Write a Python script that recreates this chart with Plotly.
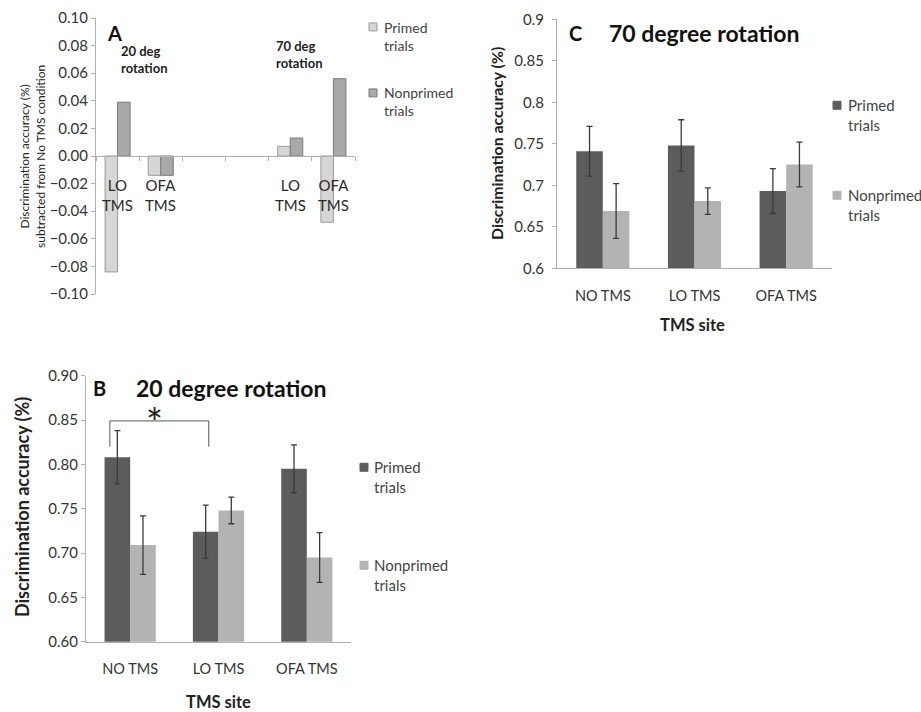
import plotly.graph_objects as go

W, H = 921, 712
FONT = "Lato"

# ---------- Data ----------
# Panel A: differences from No TMS condition
a_categories = ["LO<br>TMS", "OFA<br>TMS", "", "", "LO<br>TMS", "OFA<br>TMS"]
a_primed = [-0.084, -0.014, None, None, 0.007, -0.048]
a_nonprimed = [0.039, -0.014, None, None, 0.013, 0.056]
a_ticks = [-0.10, -0.08, -0.06, -0.04, -0.02, 0.00, 0.02, 0.04, 0.06, 0.08, 0.10]

# Panel B: 20 degree rotation
sites = ["NO TMS", "LO TMS", "OFA TMS"]
b_primed = [0.808, 0.724, 0.795]
b_primed_err = [0.030, 0.030, 0.027]
b_nonprimed = [0.709, 0.748, 0.695]
b_nonprimed_err = [0.033, 0.015, 0.028]
b_ticks = [0.60, 0.65, 0.70, 0.75, 0.80, 0.85, 0.90]

# Panel C: 70 degree rotation
c_primed = [0.741, 0.748, 0.693]
c_primed_err = [0.030, 0.031, 0.027]
c_nonprimed = [0.669, 0.681, 0.725]
c_nonprimed_err = [0.033, 0.016, 0.027]
c_ticks = [0.6, 0.65, 0.7, 0.75, 0.8, 0.85, 0.9]

series_names = ["Primed<br>trials", "Nonprimed<br>trials"]


def px_x(p):
    return p / W


def px_y(p):
    return 1 - p / H


DARK = "#5c5c5c"
LIGHT = "#b3b3b3"
A_LIGHT = "#d6d6d6"
A_MID = "#a9a9a9"
ERR = "#3a3a3a"
AXIS = "#b0b0b0"
TXT = "#333333"

fig = go.Figure()

a_x = [i + 0.5 for i in range(len(a_categories))]

fig.add_trace(go.Bar(x=a_x, y=a_primed, name=series_names[0],
                     marker=dict(color=A_LIGHT, line=dict(color="#9a9a9a", width=1)),
                     xaxis="x", yaxis="y"))
fig.add_trace(go.Bar(x=a_x, y=a_nonprimed, name=series_names[1],
                     marker=dict(color=A_MID, line=dict(color="#7a7a7a", width=1)),
                     xaxis="x", yaxis="y"))

errstyle = dict(color=ERR, thickness=1.3, width=3)
fig.add_trace(go.Bar(x=sites, y=b_primed, name=series_names[0],
                     error_y=dict(type="data", array=b_primed_err, **errstyle),
                     marker=dict(color=DARK, line=dict(width=0)),
                     xaxis="x2", yaxis="y2"))
fig.add_trace(go.Bar(x=sites, y=b_nonprimed, name=series_names[1],
                     error_y=dict(type="data", array=b_nonprimed_err, **errstyle),
                     marker=dict(color=LIGHT, line=dict(width=0)),
                     xaxis="x2", yaxis="y2"))
fig.add_trace(go.Bar(x=sites, y=c_primed, name=series_names[0],
                     error_y=dict(type="data", array=c_primed_err, **errstyle),
                     marker=dict(color=DARK, line=dict(width=0)),
                     xaxis="x3", yaxis="y3"))
fig.add_trace(go.Bar(x=sites, y=c_nonprimed, name=series_names[1],
                     error_y=dict(type="data", array=c_nonprimed_err, **errstyle),
                     marker=dict(color=LIGHT, line=dict(width=0)),
                     xaxis="x3", yaxis="y3"))

a_ydom = [px_y(294), px_y(18)]
b_ydom = [px_y(641.7), px_y(375.7)]
c_ydom = [px_y(268.3), px_y(19.3)]

tickfont = dict(family=FONT, size=15, color=TXT)
xtickfont = dict(family=FONT, size=14.5, color=TXT)
common_y = dict(showgrid=False, zeroline=False, showline=True, linecolor=AXIS,
                linewidth=1, ticks="outside", ticklen=4, tickcolor=AXIS, tickfont=tickfont,
                automargin=False)

fig.update_layout(
    width=W, height=H,
    margin=dict(l=0, r=0, t=0, b=0, autoexpand=False),
    paper_bgcolor="white", plot_bgcolor="white",
    showlegend=False,
    barmode="group", bargap=0.42, bargroupgap=0,
    font=dict(family=FONT, color=TXT),
    xaxis=dict(domain=[px_x(96), px_x(355)], range=[0, 6], anchor="free",
               position=(a_ydom[0] + a_ydom[1]) / 2,
               tickvals=list(range(7)), showticklabels=False, showgrid=False,
               zeroline=False, showline=True, linecolor=AXIS, ticks="outside",
               ticklen=4, tickcolor=AXIS, automargin=False),
    yaxis=dict(domain=a_ydom, range=[-0.10, 0.10], tickvals=a_ticks,
               tickformat=".2f", anchor="x", **common_y),
    xaxis2=dict(domain=[px_x(86), px_x(351)], range=[-0.5, 2.5], anchor="y2",
                showgrid=False, zeroline=False, showline=True, linecolor=AXIS,
                ticks="", tickfont=xtickfont, automargin=False, ticklabelstandoff=14),
    yaxis2=dict(domain=b_ydom, range=[0.6, 0.9], tickvals=b_ticks,
                tickformat=".2f", anchor="x2", **common_y),
    xaxis3=dict(domain=[px_x(557), px_x(832)], range=[-0.5, 2.5], anchor="y3",
                showgrid=False, zeroline=False, showline=True, linecolor=AXIS,
                ticks="", tickfont=xtickfont, automargin=False, ticklabelstandoff=14),
    yaxis3=dict(domain=c_ydom, range=[0.6, 0.9], tickvals=c_ticks,
                ticktext=[str(v) for v in c_ticks], anchor="x3", ticklabelstandoff=5,
                **common_y),
)

ann = []
shapes = []
# Panel A category labels
for xi, lab in zip(a_x, a_categories):
    if lab:
        ann.append(dict(x=xi, y=-0.028, xref="x", yref="y", text=lab, showarrow=False,
                        font=dict(family=FONT, size=15, color="#2a2a2a"),
                        xanchor="center", yanchor="middle", align="center"))


def paper_text(x, y, text, size, bold=False, xanchor="left", angle=0, color="#111",
               align="left", yanchor="middle"):
    t = f"<b>{text}</b>" if bold else text
    ann.append(dict(x=px_x(x), y=px_y(y), xref="paper", yref="paper", text=t,
                    showarrow=False, textangle=angle, xanchor=xanchor, yanchor=yanchor,
                    align=align, font=dict(family=FONT, size=size, color=color)))


def legend_block(sym_x, text_x, centers, colors, size, borders=None):
    for i, (name, cy, col) in enumerate(zip(series_names, centers, colors)):
        first_line_y = cy - size * 0.65
        lc = borders[i] if borders else col
        shapes.append(dict(type="rect", xref="paper", yref="paper",
                           x0=px_x(sym_x), x1=px_x(sym_x + 8),
                           y0=px_y(first_line_y + 4), y1=px_y(first_line_y - 4),
                           fillcolor=col, line=dict(color=lc, width=1)))
        paper_text(text_x, cy, name, size, color="#444")


# Panel A texts
paper_text(105, 33, "A", 20, bold=True)
paper_text(119, 59.5, "20 deg<br>rotation", 13, bold=True, color="#222")
paper_text(274, 54.5, "70 deg<br>rotation", 13, bold=True, color="#222")
paper_text(32, 157, "Discrimination accuracy (%)<br>subtracted from No TMS condition", 12,
           xanchor="center", angle=-90, color="#222", align="center")
legend_block(369, 382, [36, 102], [A_LIGHT, A_MID], 14, borders=["#9a9a9a", "#7a7a7a"])

# Panel B texts
paper_text(91, 388, "B", 20, bold=True)
paper_text(134, 388, "20 degree rotation", 23, bold=True)
paper_text(22, 507, "Discrimination accuracy (%)", 18, bold=True, xanchor="center", angle=-90, color="#222")
paper_text(218, 702, "TMS site", 16.5, bold=True, xanchor="center", color="#222")
legend_block(360, 372, [477, 575], [DARK, LIGHT], 15)

# Panel C texts
paper_text(567, 33, "C", 20, bold=True)
paper_text(607, 33, "70 degree rotation", 23, bold=True)
paper_text(496, 144, "Discrimination accuracy (%)", 15.8, bold=True, xanchor="center", angle=-90, color="#222")
paper_text(692, 325, "TMS site", 16.5, bold=True, xanchor="center", color="#222")
legend_block(833, 846, [115, 205], [DARK, LIGHT], 15)

# significance star in B
ann.append(dict(x=0.28, y=px_y(397), xref="x2", yref="paper", text="*", showarrow=False,
                font=dict(family=FONT, size=40, color="#222"), xanchor="center", yanchor="top"))

shapes.append(dict(type="path", xref="x2", yref="y2",
                   path="M -0.23,0.82 L -0.23,0.849 L 0.89,0.849 L 0.89,0.82",
                   line=dict(color="#555", width=1)))

fig.update_layout(annotations=ann, shapes=shapes)

fig.write_html("out.html", config={"displayModeBar": False},
               post_script="document.body.style.margin='0';document.body.style.overflow='hidden';")
